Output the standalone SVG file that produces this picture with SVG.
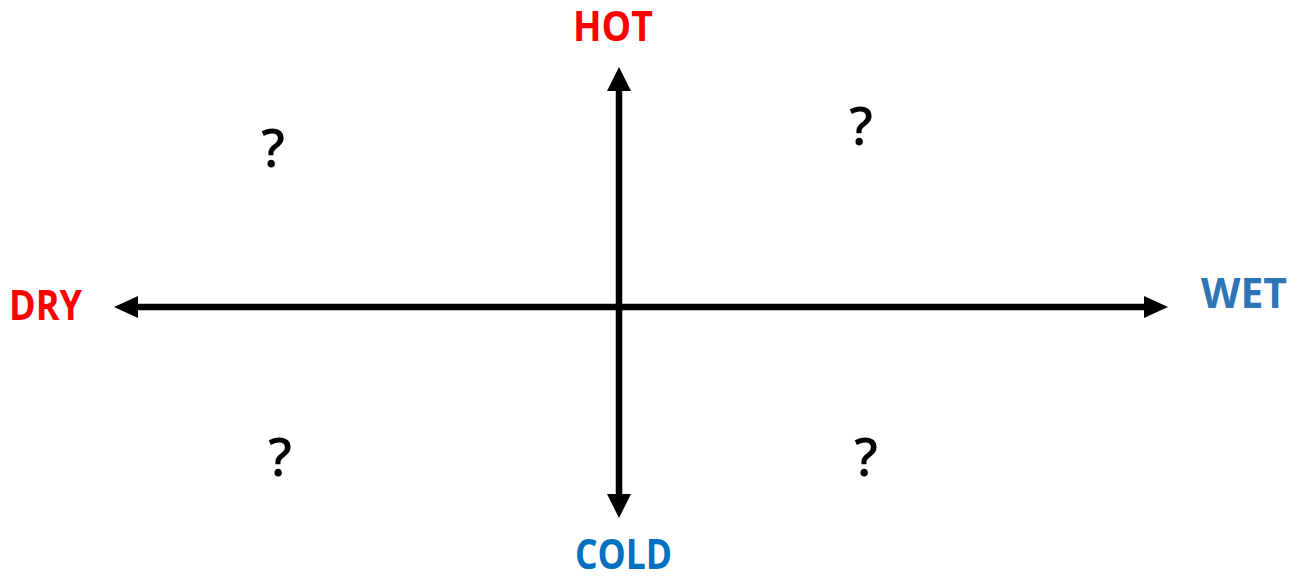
<svg xmlns="http://www.w3.org/2000/svg" width="1300" height="576" viewBox="0 0 1300 576">
  <style>
    .lbl { font-family: "Open Sans", "Liberation Sans", sans-serif; font-weight: bold; font-size: 42px; }
    .q { font-family: "Open Sans", "Liberation Sans", sans-serif; font-size: 52px; font-weight: 600; fill: #000; text-anchor: middle; }
    .axis { stroke: #000; stroke-width: 6.5; fill: none; }
    .head { fill: #000; }
  </style>
  <rect width="1300" height="576" fill="#fff"/>
  <g id="connectors">
    <line class="axis" x1="619" y1="88" x2="619" y2="497"/>
    <line class="axis" x1="135" y1="307" x2="1146" y2="307"/>
    <polygon class="head" points="619,67 631,91 607,91"/>
    <polygon class="head" points="619,518 607,494 631,494"/>
    <polygon class="head" points="114,307 138,296 138,318"/>
    <polygon class="head" points="1168,307 1144,296 1144,318"/>
  </g>
  <g id="hot"><text class="lbl" x="573" y="41" fill="#FF0000" textLength="80" lengthAdjust="spacingAndGlyphs">HOT</text></g>
  <g id="dry"><text class="lbl" x="9" y="320" fill="#FF0000" textLength="73" lengthAdjust="spacingAndGlyphs">DRY</text></g>
  <g id="wet"><text class="lbl" x="1201" y="308" fill="#2E75B6" textLength="86" lengthAdjust="spacingAndGlyphs">WET</text></g>
  <g id="cold"><text class="lbl" x="575" y="569" fill="#0070C0" textLength="97" lengthAdjust="spacingAndGlyphs">COLD</text></g>
  <g id="q-top-left"><text class="q" x="273" y="167">?</text></g>
  <g id="q-top-right"><text class="q" x="861" y="145">?</text></g>
  <g id="q-bottom-left"><text class="q" x="280" y="476">?</text></g>
  <g id="q-bottom-right"><text class="q" x="866" y="476">?</text></g>
</svg>
